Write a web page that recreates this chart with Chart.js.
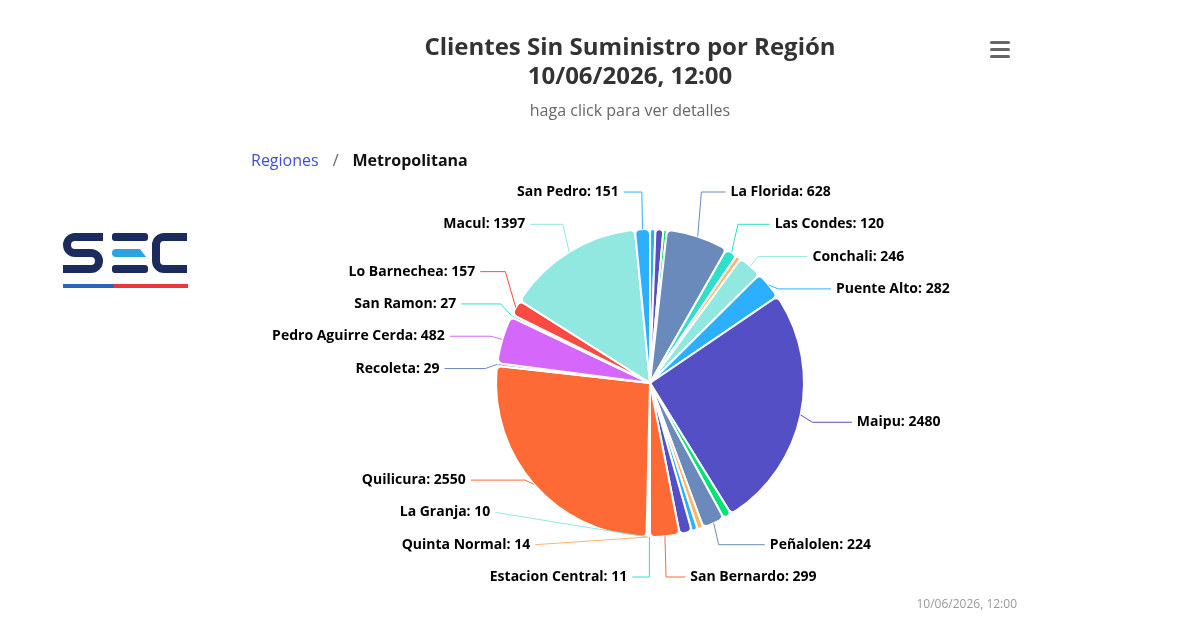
<!DOCTYPE html>
<html>
<head>
<meta charset="utf-8">
<script src="https://cdn.jsdelivr.net/npm/chart.js@4.4.0/dist/chart.umd.min.js"></script>
<style>
  html, body { margin: 0; padding: 0; background: #fff; }
  body { width: 1200px; height: 630px; position: relative; overflow: hidden; font-family: "Open Sans", sans-serif; }
  #chart { position: absolute; left: 0; top: 0; }
  .title { position: absolute; left: 330px; width: 600px; top: 31px; text-align: center; font-weight: 700; font-size: 24px; line-height: 29px; color: #333; }
  .subtitle { position: absolute; left: 330px; width: 600px; top: 99px; text-align: center; font-size: 16px; color: #666; }
  .crumbs { position: absolute; left: 251px; top: 149px; font-size: 16px; color: #666; white-space: nowrap; }
  .crumbs .link { color: #3d4ed8; }
  .crumbs .sep { margin: 0 14px 0 14px; }
  .crumbs .here { color: #111; font-weight: 700; }
  .menu { position: absolute; left: 990px; top: 41px; width: 20px; }
  .menu div { height: 3px; background: #666; border-radius: 2px; margin-bottom: 4px; }
  .credits { position: absolute; right: 183px; top: 595px; font-size: 12px; color: #999; }
  .logo { position: absolute; left: 0; top: 0; }
</style>
</head>
<body>
<canvas id="chart" width="1200" height="630"></canvas>
<div class="title">Clientes Sin Suministro por Región<br>10/06/2026, 12:00</div>
<div class="subtitle">haga click para ver detalles</div>
<div class="crumbs"><span class="link">Regiones</span><span class="sep">/</span><span class="here">Metropolitana</span></div>
<div class="menu"><div></div><div></div><div></div></div>
<div class="credits">10/06/2026, 12:00</div>
<svg class="logo" width="200" height="300">
  <g fill="none" stroke="#1b2c5c" stroke-width="8">
    <path d="M103 237 H75 A8 8 0 0 0 75 253 H91 A8 8 0 0 1 91 269 H63"/>
    <path d="M187 237 H164 A8 8 0 0 0 156 245 V261 A8 8 0 0 0 164 269 H187"/>
  </g>
  <rect x="112" y="233" width="36" height="8" rx="3" fill="#1b2c5c"/>
  <path d="M116 249 H140 L146 257 H116 A4 4 0 0 1 116 249 Z" fill="#2aa3e0"/>
  <rect x="112" y="265" width="36" height="8" rx="3" fill="#1b2c5c"/>
  <rect x="63" y="284" width="51" height="4" fill="#2a67b8"/>
  <rect x="114" y="284" width="74" height="4" fill="#e8383d"/>
</svg>
<script>
// slices clockwise from 12 o'clock; empty names = slices whose labels are hidden in the original
const communes = ["", "", "", "La Florida", "Las Condes", "", "Conchali", "Puente Alto", "Maipu", "",
  "Peñalolen", "", "", "", "San Bernardo", "Estacion Central", "Quinta Normal", "La Granja",
  "Quilicura", "Recoleta", "Pedro Aguirre Cerda", "San Ramon", "Lo Barnechea", "Macul", "San Pedro"];
const clients = [55, 80, 35, 628, 120, 50, 246, 282, 2480, 85,
  224, 60, 60, 125, 299, 11, 14, 10,
  2550, 29, 482, 27, 157, 1397, 151];

const palette = ["#2caffe", "#544fc5", "#00e272", "#fe6a35", "#6b8abc", "#d568fb", "#2ee0ca", "#fa4b42", "#feb56a", "#91e8e1"];
const colorIdx = [0, 1, 2, 4, 6, 8, 9, 0, 1, 2, 4, 8, 0, 1, 3, 6, 8, 9, 3, 4, 5, 6, 7, 9, 0];
const sliceColors = colorIdx.map(i => palette[i]);

// spread labels of one side so they don't overlap
function spread(items, gap, top, bottom) {
  items.sort((p, q) => p.ny - q.ny);
  const groups = items.map(it => ({ list: [it] }));
  const place = g => {
    const n = g.list.length;
    const mean = g.list.reduce((s, it) => s + it.ny, 0) / n;
    let first = mean - (n - 1) * gap / 2;
    first = Math.max(top, Math.min(first, bottom - (n - 1) * gap));
    g.first = first;
    g.last = first + (n - 1) * gap;
  };
  groups.forEach(place);
  let merged = true;
  while (merged) {
    merged = false;
    for (let k = 1; k < groups.length; k++) {
      if (groups[k - 1].last + gap > groups[k].first + 0.01) {
        groups[k - 1].list.push(...groups[k].list);
        groups.splice(k, 1);
        place(groups[k - 1]);
        merged = true;
        break;
      }
    }
  }
  groups.forEach(g => g.list.forEach((it, k) => { it.y = g.first + k * gap; }));
}

const pieLabels = {
  id: "pieLabels",
  afterDatasetsDraw(chart) {
    const ctx = chart.ctx;
    const arcs = chart.getDatasetMeta(0).data;
    const cx = arcs[0].x, cy = arcs[0].y, r = arcs[0].outerRadius;
    const R = r + 35, gap = 32.3, top = cy - R - 2, bottom = cy + R + 5;
    const left = [], right = [];
    arcs.forEach((arc, i) => {
      if (!communes[i]) return;
      const a = (arc.startAngle + arc.endAngle) / 2;
      const item = { i, a, ny: cy + R * Math.sin(a) };
      (a > Math.PI / 2 ? left : right).push(item);
    });
    spread(left, gap, top, bottom);
    spread(right, gap, top, bottom);

    ctx.save();
    ctx.font = "bold 14px 'Open Sans'";
    ctx.textBaseline = "middle";
    [[left, true], [right, false]].forEach(([list, isLeft]) => {
      list.forEach(it => {
        const clamped = it.y <= top + 1 || it.y >= bottom - 1;
        const dy = (clamped ? it.ny : it.y) - cy;
        const dx = Math.sqrt(Math.max(0, R * R - dy * dy)) + 22;
        const lx = cx + (isLeft ? -dx : dx);
        const ax = lx + (isLeft ? 5 : -5);
        const tx = cx + r * Math.cos(it.a), ty = cy + r * Math.sin(it.a);
        const bx = cx + (r + 12) * Math.cos(it.a);
        const run = Math.abs(bx - ax);
        ctx.strokeStyle = sliceColors[it.i];
        ctx.lineWidth = 1;
        ctx.beginPath();
        ctx.moveTo(ax, it.y);
        if ((isLeft ? bx > ax : bx < ax) && run < 70) ctx.lineTo(bx, it.y);
        ctx.lineTo(tx, ty);
        ctx.stroke();

        const text = communes[it.i] + ": " + clients[it.i];
        ctx.textAlign = isLeft ? "right" : "left";
        ctx.lineWidth = 2;
        ctx.strokeStyle = "#fff";
        ctx.strokeText(text, lx, it.y);
        ctx.fillStyle = "#000";
        ctx.fillText(text, lx, it.y);
      });
    });
    ctx.restore();
  }
};

new Chart(document.getElementById("chart"), {
  type: "pie",
  data: {
    labels: communes,
    datasets: [{
      data: clients,
      backgroundColor: sliceColors,
      borderColor: "#fff",
      borderWidth: 2,
      borderRadius: 5,
    }],
  },
  options: {
    responsive: false,
    animation: false,
    devicePixelRatio: 1,
    layout: { padding: { left: 495, right: 395, top: 228, bottom: 92 } },
    plugins: {
      legend: { display: false },
      tooltip: { enabled: false },
    },
  },
  plugins: [pieLabels],
});
</script>
</body>
</html>
